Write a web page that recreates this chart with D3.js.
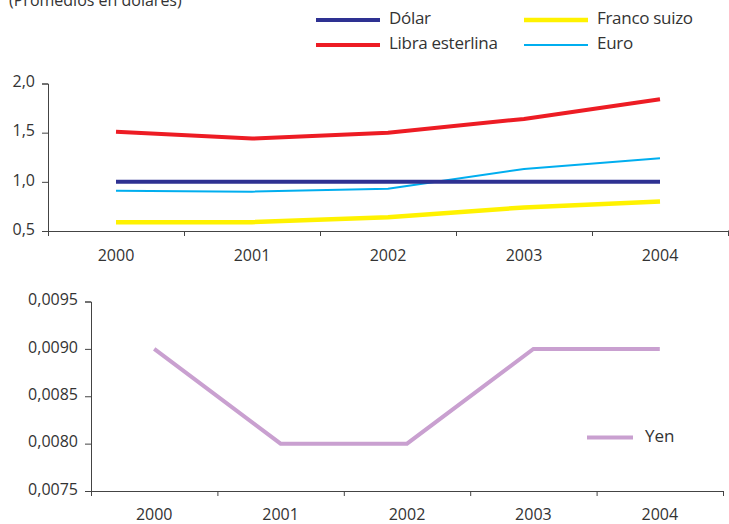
<!DOCTYPE html>
<html>
<head>
<meta charset="utf-8">
<script src="https://cdn.jsdelivr.net/npm/d3@7"></script>
<style>
  body { margin: 0; background: #fff; }
  text { font-family: "Open Sans", "Noto Sans", sans-serif; fill: #333; }
</style>
</head>
<body>
<div id="chart"></div>
<script>
// data
var years = ['2000', '2001', '2002', '2003', '2004'];
var dolar = [1.0, 1.0, 1.0, 1.0, 1.0];
var libra = [1.51, 1.44, 1.50, 1.64, 1.84];
var franco = [0.59, 0.59, 0.64, 0.74, 0.80];
var euro = [0.91, 0.90, 0.93, 1.13, 1.24];
var yen = [0.0090, 0.0080, 0.0080, 0.0090, 0.0090];
var topTicks = [0.5, 1.0, 1.5, 2.0];
var bottomTicks = [0.0075, 0.0080, 0.0085, 0.0090, 0.0095];

var series = [
  { name: 'Dólar', values: dolar, color: '#2e3192', w: 4 },
  { name: 'Libra esterlina', values: libra, color: '#ed1c24', w: 4 },
  { name: 'Franco suizo', values: franco, color: '#fff200', w: 4.5 },
  { name: 'Euro', values: euro, color: '#00aeef', w: 2 }
];

var W = 729, H = 524;
var svg = d3.select('#chart').append('svg')
  .attr('width', W).attr('height', H);

var comma = function (n) { return function (d) { return d3.format('.' + n + 'f')(d).replace('.', ','); }; };

svg.append('text')
  .attr('x', 9).attr('y', 6)
  .style('font-size', '16px')
  .text('(Promedios en dólares)');

function panel(opt) {
  var g = svg.append('g');
  var x = d3.scaleBand().domain(years).range([opt.left, opt.right]);
  var xb = d3.scaleLinear().domain([0, years.length]).range([opt.left, opt.right]);
  var y = d3.scaleLinear().domain(opt.domain).range([opt.bottom, opt.top]);

  // y axis
  var ya = g.append('g')
    .attr('transform', 'translate(' + opt.left + ',0)')
    .call(d3.axisLeft(y).tickValues(opt.ticks).tickFormat(opt.fmt).tickSize(6).tickPadding(7));
  ya.select('.domain').attr('stroke', '#444');
  ya.selectAll('.tick line').attr('stroke', '#444');
  ya.selectAll('text').style('font-size', '16px').attr('dy', '0.2em').attr('fill', '#333');

  // x axis: ticks at band edges, labels at band centres
  var xa = g.append('g')
    .attr('transform', 'translate(0,' + opt.bottom + ')')
    .call(d3.axisBottom(xb).tickValues(d3.range(years.length + 1)).tickFormat('').tickSize(5).tickSizeOuter(0));
  xa.select('.domain').attr('stroke', '#444');
  xa.selectAll('.tick line').attr('stroke', '#444');
  if (opt.axisEnd) {
    xa.append('line').attr('x1', opt.right).attr('x2', opt.axisEnd).attr('stroke', '#444');
  }
  var xl = g.append('g')
    .attr('transform', 'translate(0,' + opt.bottom + ')')
    .call(d3.axisBottom(x).tickSize(0).tickPadding(opt.labelPad));
  xl.select('.domain').remove();
  xl.selectAll('text').style('font-size', '16px').attr('fill', '#333');

  var line = d3.line()
    .x(function (d, i) { return x(years[i]) + x.bandwidth() / 2; })
    .y(function (d) { return y(d); });

  opt.series.forEach(function (s) {
    g.append('path')
      .datum(s.values)
      .attr('fill', 'none')
      .attr('stroke', s.color)
      .attr('stroke-width', s.w)
      .attr('d', line);
  });
}

panel({
  left: 48, right: 728, axisEnd: 729, top: 83.5, bottom: 231,
  domain: [0.5, 2.0], ticks: topTicks, fmt: comma(1), labelPad: 19,
  series: series.slice().reverse()
});

panel({
  left: 91, right: 723, top: 301.5, bottom: 491,
  domain: [0.0075, 0.0095], ticks: bottomTicks, fmt: comma(4), labelPad: 18,
  series: [{ name: 'Yen', values: yen, color: '#c9a0d0', w: 4 }]
});

// legends
var legTop = [
  { s: series[0], x: 316, y: 20 },
  { s: series[1], x: 316, y: 45 },
  { s: series[2], x: 524, y: 20 },
  { s: series[3], x: 524, y: 45 }
];
legTop.forEach(function (l) {
  svg.append('line')
    .attr('x1', l.x).attr('x2', l.x + 64)
    .attr('y1', l.y).attr('y2', l.y)
    .attr('stroke', l.s.color).attr('stroke-width', l.s.w);
  svg.append('text')
    .attr('x', l.x + 73).attr('y', l.y - 2)
    .attr('dy', '0.35em')
    .style('font-size', '17px')
    .style('letter-spacing', '-0.3px')
    .text(l.s.name);
});

svg.append('line')
  .attr('x1', 587).attr('x2', 633)
  .attr('y1', 437.5).attr('y2', 437.5)
  .attr('stroke', '#c9a0d0').attr('stroke-width', 4);
svg.append('text')
  .attr('x', 645).attr('y', 436)
  .attr('dy', '0.35em')
  .style('font-size', '17px')
  .text('Yen');
</script>
</body>
</html>
